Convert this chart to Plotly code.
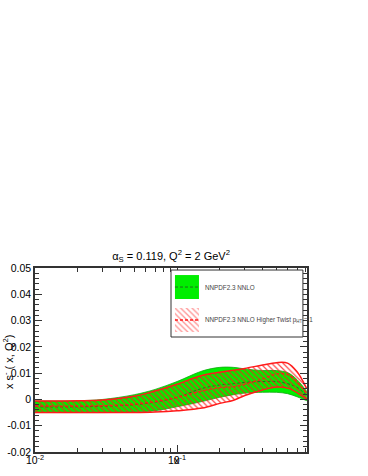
import plotly.graph_objects as go

# x grid and band edges
x = [0.01, 0.02, 0.03, 0.05, 0.07, 0.1, 0.15, 0.2, 0.25, 0.3, 0.4, 0.5, 0.6, 0.7, 0.82]

nnlo_up = [-0.0006, -0.0005, 0.0, 0.0018, 0.0038, 0.0068, 0.0108, 0.0122, 0.0122, 0.0116, 0.011, 0.011, 0.0102, 0.0075, 0.003]
nnlo_lo = [-0.005, -0.005, -0.005, -0.0048, -0.0043, -0.0028, -0.0008, 0.0008, 0.0018, 0.0024, 0.0027, 0.0027, 0.0022, 0.001, -0.0005]
nnlo_cv = [-0.0028, -0.0028, -0.0026, -0.002, -0.001, 0.0008, 0.0042, 0.0055, 0.006, 0.0065, 0.0068, 0.0068, 0.006, 0.0046, 0.0015]

ht_up = [-0.0006, -0.0005, -0.0002, 0.0012, 0.0032, 0.0058, 0.0091, 0.0103, 0.0111, 0.0118, 0.0131, 0.014, 0.0138, 0.0105, 0.004]
ht_lo = [-0.005, -0.005, -0.005, -0.005, -0.0048, -0.0043, -0.0033, -0.0015, -0.0003, 0.0015, 0.0036, 0.0047, 0.0043, 0.0026, 0.0]
ht_cv = [-0.0025, -0.0025, -0.0024, -0.0018, -0.0008, 0.0008, 0.0032, 0.0045, 0.0048, 0.0058, 0.0078, 0.0097, 0.0095, 0.0068, 0.002]

labels = ["NNPDF2.3 NNLO", "NNPDF2.3 NNLO Higher Twist p<sub>HT</sub> = 1"]

GREEN = "#00ee00"
DKGREEN = "#1f6b1f"
RED = "#ff1a1a"
FONT = "Liberation Sans, Arial, sans-serif"

fig = go.Figure()

# green band
fig.add_trace(go.Scatter(x=x, y=nnlo_lo, mode="lines", line=dict(color="#11aa11", width=0.8, shape="spline"),
                         showlegend=False, hoverinfo="skip"))
fig.add_trace(go.Scatter(x=x, y=nnlo_up, mode="lines", line=dict(color="#11aa11", width=0.8, shape="spline"),
                         fill="tonexty", fillcolor=GREEN, showlegend=False, hoverinfo="skip"))
fig.add_trace(go.Scatter(x=x, y=nnlo_cv, mode="lines", line=dict(color=DKGREEN, width=1, dash="3px,2px", shape="spline"),
                         showlegend=False))

# red hatched band
fig.add_trace(go.Scatter(x=x, y=ht_lo, mode="lines", line=dict(color=RED, width=1.5, shape="spline"),
                         showlegend=False, hoverinfo="skip"))
fig.add_trace(go.Scatter(x=x, y=ht_up, mode="lines", line=dict(color=RED, width=1.5, shape="spline"),
                         fill="tonexty", fillcolor="rgba(0,0,0,0)",
                         fillpattern=dict(shape="\\", fgcolor=RED, bgcolor="rgba(0,0,0,0)", size=4, solidity=0.3, fgopacity=0.8),
                         showlegend=False, hoverinfo="skip"))
fig.add_trace(go.Scatter(x=x, y=ht_cv, mode="lines", line=dict(color=RED, width=1.3, dash="3px,2px", shape="spline"),
                         showlegend=False))

# hand-drawn legend on an overlay axis (0..1 in both directions)
box_x = [0.03, 0.212, 0.212, 0.03, 0.03]
fig.add_trace(go.Scatter(x=box_x, y=[0.567, 0.567, 0.925, 0.925, 0.567], xaxis="x2", yaxis="y2",
                         mode="lines", line=dict(width=0), fill="toself", fillcolor=GREEN,
                         showlegend=False, hoverinfo="skip"))
fig.add_trace(go.Scatter(x=[0.03, 0.212], y=[0.746, 0.746], xaxis="x2", yaxis="y2", mode="lines",
                         line=dict(color=DKGREEN, width=1, dash="3px,2px"), showlegend=False, hoverinfo="skip"))
fig.add_trace(go.Scatter(x=box_x, y=[0.075, 0.075, 0.433, 0.433, 0.075], xaxis="x2", yaxis="y2",
                         mode="lines", line=dict(width=0), fill="toself", fillcolor="rgba(0,0,0,0)",
                         fillpattern=dict(shape="\\", fgcolor=RED, bgcolor="rgba(0,0,0,0)", size=4, solidity=0.3, fgopacity=0.5),
                         showlegend=False, hoverinfo="skip"))
fig.add_trace(go.Scatter(x=[0.03, 0.212], y=[0.254, 0.254], xaxis="x2", yaxis="y2", mode="lines",
                         line=dict(color=RED, width=1.3, dash="3px,2px"), showlegend=False, hoverinfo="skip"))

for lab, yy in zip(labels, [0.746, 0.254]):
    fig.add_annotation(x=0.242, y=yy, xref="x2", yref="y2", text=lab, showarrow=False,
                       xanchor="left", yanchor="middle", font=dict(size=6.3, color="#444444", family=FONT))

fig.add_shape(type="rect", xref="x2 domain", yref="y2 domain", x0=0, x1=1, y0=0, y1=1,
              line=dict(color="#333333", width=1), fillcolor="rgba(0,0,0,0)")

axis_common = dict(showline=True, linecolor="#333333", linewidth=1.5, mirror="ticks", ticks="inside",
                   tickcolor="#333333", showgrid=False, zeroline=False, automargin=False,
                   tickfont=dict(size=10.5, color="black", family=FONT))

fig.update_layout(
    width=368, height=476,
    margin=dict(l=35, r=61, t=268, b=24),
    paper_bgcolor="white", plot_bgcolor="white",
    font=dict(family=FONT, color="black"),
    title=dict(text="α<sub>S</sub> = 0.119, Q<sup>2</sup> = 2 GeV<sup>2</sup>", x=0.465, xanchor="center",
               y=1 - 256 / 476, yanchor="middle", font=dict(size=11), automargin=False),
    xaxis=dict(type="log", range=[-2, -0.085], tickvals=[0.01, 0.1],
               ticktext=["10<sup>-2</sup>", "10<sup>-1</sup>"], ticklen=7, tickwidth=1,
               ticklabelstandoff=-2,
               minor=dict(ticks="inside", ticklen=4, dtick="D1", tickcolor="#333333", showgrid=False),
               **axis_common),
    yaxis=dict(range=[-0.02, 0.05], ticklen=7, tickwidth=1,
               tickvals=[-0.02, -0.01, 0, 0.01, 0.02, 0.03, 0.04, 0.05],
               ticktext=["-0.02", "-0.01", "0", "0.01", "0.02", "0.03", "0.04", "0.05"],
               minor=dict(ticks="inside", ticklen=4, dtick=0.002, tickcolor="#333333", showgrid=False),
               **axis_common),
    xaxis2=dict(domain=[0.5, 0.985], range=[0, 1], anchor="y2", visible=False),
    yaxis2=dict(domain=[0.625, 0.989], range=[0, 1], anchor="x2", visible=False),
)

# axis titles
fig.add_annotation(x=-1, y=-0.045, xref="x", yref="paper", text="x", showarrow=False,
                   font=dict(size=11, family=FONT), yanchor="middle")
fig.add_annotation(x=-0.099, y=0.489, xref="paper", yref="paper", text="x s<sup>-</sup> ( x, Q<sup>2</sup>)",
                   textangle=-90, showarrow=False, font=dict(size=11, family=FONT),
                   xanchor="center", yanchor="middle")

# page default body margin would shift the figure by 8px
fig.write_html("out.html", config={"displayModeBar": False},
               post_script="document.body.style.margin='0';")
